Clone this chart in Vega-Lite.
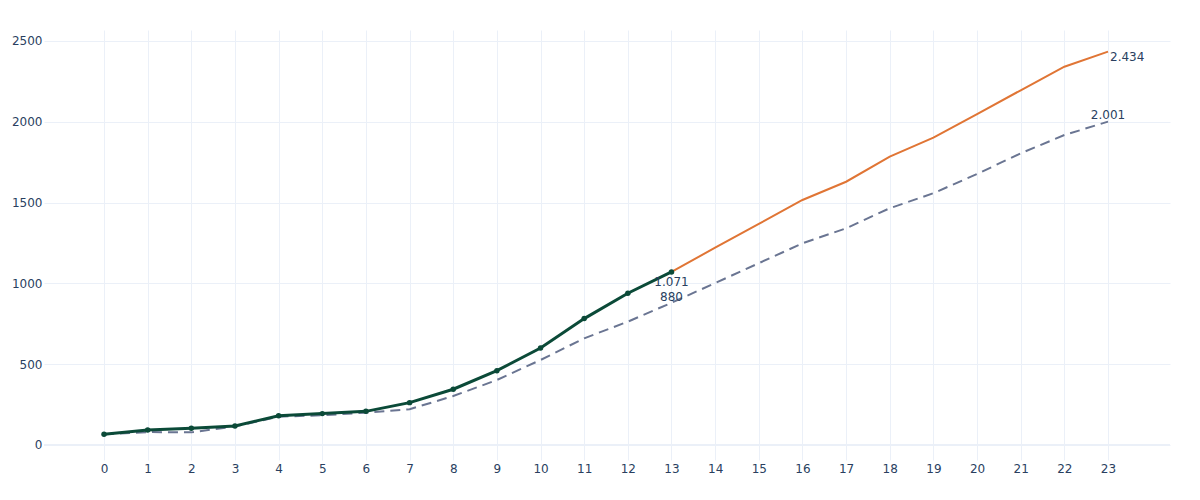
{
  "$schema": "https://vega.github.io/schema/vega-lite/v6.json",
  "width": 1126,
  "height": 430,
  "autosize": {"type": "none"},
  "padding": {"left": 44, "top": 30, "right": 30, "bottom": 40},
  "background": "white",
  "data": {
    "values": [
      {"t": 0, "actual": 66, "forecast": null, "reference": 66},
      {"t": 1, "actual": 93, "forecast": null, "reference": 80},
      {"t": 2, "actual": 103, "forecast": null, "reference": 78},
      {"t": 3, "actual": 118, "forecast": null, "reference": 115},
      {"t": 4, "actual": 181, "forecast": null, "reference": 175},
      {"t": 5, "actual": 194, "forecast": null, "reference": 184},
      {"t": 6, "actual": 208, "forecast": null, "reference": 200},
      {"t": 7, "actual": 262, "forecast": null, "reference": 221},
      {"t": 8, "actual": 345, "forecast": null, "reference": 303},
      {"t": 9, "actual": 460, "forecast": null, "reference": 402},
      {"t": 10, "actual": 600, "forecast": null, "reference": 526},
      {"t": 11, "actual": 782, "forecast": null, "reference": 660},
      {"t": 12, "actual": 939, "forecast": null, "reference": 763},
      {"t": 13, "actual": 1071, "forecast": 1071, "reference": 880},
      {"t": 14, "actual": null, "forecast": 1221, "reference": 1002},
      {"t": 15, "actual": null, "forecast": 1368, "reference": 1125},
      {"t": 16, "actual": null, "forecast": 1516, "reference": 1248},
      {"t": 17, "actual": null, "forecast": 1629, "reference": 1341},
      {"t": 18, "actual": null, "forecast": 1784, "reference": 1465},
      {"t": 19, "actual": null, "forecast": 1902, "reference": 1558},
      {"t": 20, "actual": null, "forecast": 2048, "reference": 1677},
      {"t": 21, "actual": null, "forecast": 2195, "reference": 1805},
      {"t": 22, "actual": null, "forecast": 2341, "reference": 1918},
      {"t": 23, "actual": null, "forecast": 2434, "reference": 2001}
    ]
  },
  "encoding": {
    "x": {
      "field": "t",
      "type": "quantitative",
      "scale": {"domain": [-1.375, 24.42], "nice": false, "zero": false},
      "axis": {
        "title": null,
        "values": [0, 1, 2, 3, 4, 5, 6, 7, 8, 9, 10, 11, 12, 13, 14, 15, 16, 17, 18, 19, 20, 21, 22, 23],
        "format": "d",
        "labelPadding": 3
      }
    }
  },
  "layer": [
    {
      "mark": {"type": "rule", "color": "#EBF0F8", "strokeWidth": 2},
      "encoding": {"x": null, "y": {"datum": 0, "type": "quantitative"}}
    },
    {
      "mark": {"type": "line", "color": "#6a7592", "strokeWidth": 2, "strokeDash": [10, 6]},
      "encoding": {
        "y": {
          "field": "reference",
          "type": "quantitative",
          "scale": {"domain": [-93, 2568], "nice": false, "zero": false},
          "axis": {
            "title": null,
            "values": [0, 500, 1000, 1500, 2000, 2500],
            "format": "d",
            "labelPadding": 2
          }
        }
      }
    },
    {
      "mark": {"type": "line", "color": "#e07535", "strokeWidth": 2},
      "encoding": {"y": {"field": "forecast", "type": "quantitative"}}
    },
    {
      "mark": {"type": "line", "color": "#0b4a38", "strokeWidth": 3},
      "encoding": {"y": {"field": "actual", "type": "quantitative"}}
    },
    {
      "mark": {"type": "circle", "color": "#0b4a38", "size": 30, "opacity": 1},
      "encoding": {"y": {"field": "actual", "type": "quantitative"}}
    },
    {
      "transform": [{"filter": "datum.t == 13"}],
      "mark": {"type": "text", "align": "center", "baseline": "alphabetic", "dy": 14},
      "encoding": {
        "y": {"field": "actual", "type": "quantitative"},
        "text": {"field": "actual", "type": "quantitative", "format": ",d"}
      }
    },
    {
      "transform": [{"filter": "datum.t == 13"}],
      "mark": {"type": "text", "align": "center", "baseline": "alphabetic", "dy": -2},
      "encoding": {
        "y": {"field": "reference", "type": "quantitative"},
        "text": {"field": "reference", "type": "quantitative", "format": ",d"}
      }
    },
    {
      "transform": [{"filter": "datum.t == 23"}],
      "mark": {"type": "text", "align": "left", "baseline": "alphabetic", "dx": 2, "dy": 9},
      "encoding": {
        "y": {"field": "forecast", "type": "quantitative"},
        "text": {"field": "forecast", "type": "quantitative", "format": ",d"}
      }
    },
    {
      "transform": [{"filter": "datum.t == 23"}],
      "mark": {"type": "text", "align": "center", "baseline": "alphabetic", "dy": -2.5},
      "encoding": {
        "y": {"field": "reference", "type": "quantitative"},
        "text": {"field": "reference", "type": "quantitative", "format": ",d"}
      }
    }
  ],
  "config": {
    "locale": {
      "number": {"decimal": ",", "thousands": ".", "grouping": [3], "currency": ["", " €"]}
    },
    "font": "DejaVu Sans",
    "view": {"stroke": null},
    "text": {"font": "DejaVu Sans", "fontSize": 12, "color": "#2a3f5f"},
    "axis": {
      "domain": false,
      "ticks": false,
      "grid": true,
      "gridColor": "#EBF0F8",
      "gridWidth": 1,
      "labelFont": "DejaVu Sans",
      "labelFontSize": 12,
      "labelColor": "#2a3f5f"
    }
  }
}
